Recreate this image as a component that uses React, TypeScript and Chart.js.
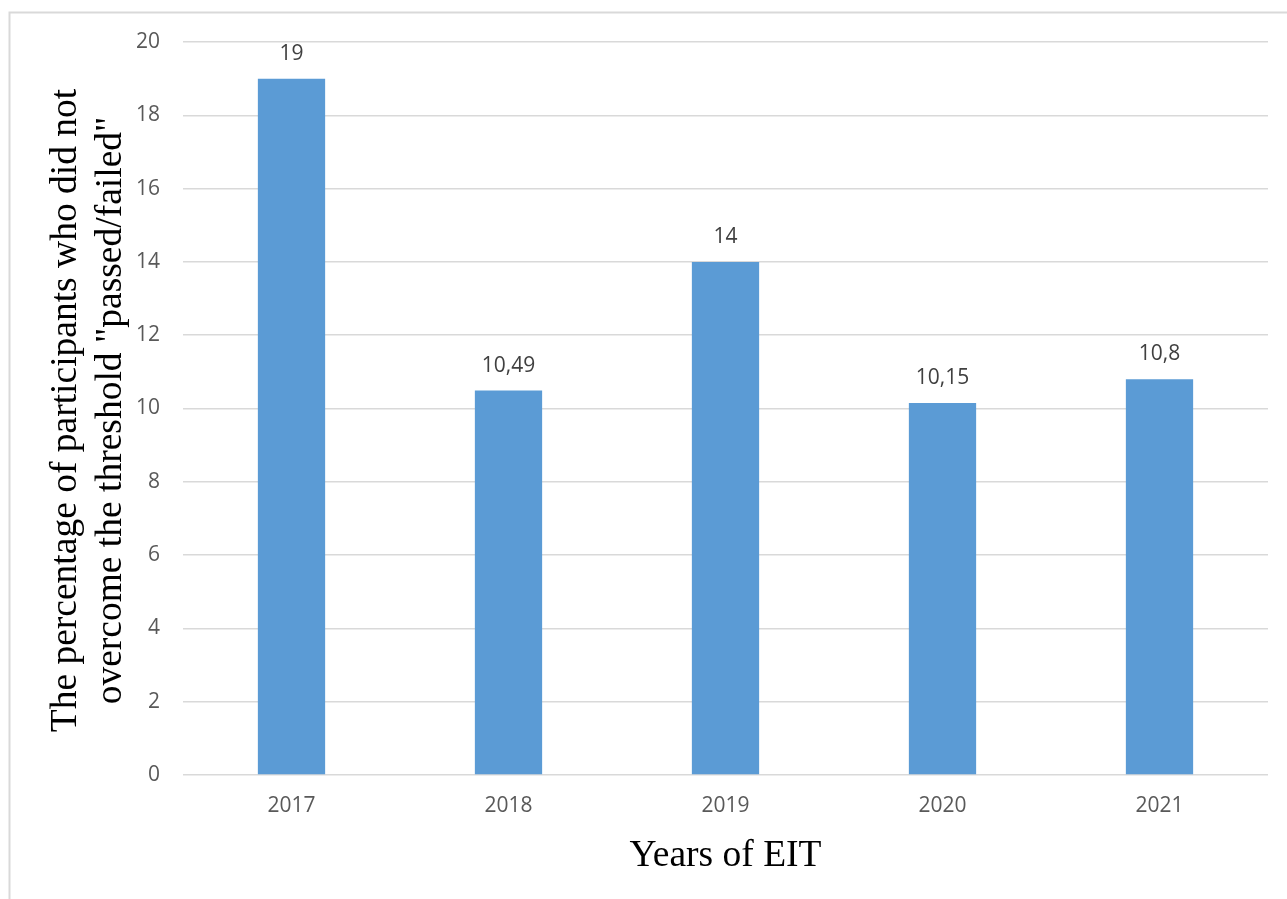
import React, { useEffect, useRef } from "react";
import { Chart, registerables } from "chart.js";

Chart.register(...registerables);

const years: string[] = ["2017", "2018", "2019", "2020", "2021"];
const failedPercent: number[] = [19, 10.49, 14, 10.15, 10.8];
const valueLabels: string[] = ["19", "10,49", "14", "10,15", "10,8"];
const yTitleLines: string[] = [
  "The percentage of participants who did not",
  'overcome the threshold "passed/failed"',
];
const xTitle = "Years of EIT";

const W = 1287;
const H = 899;

const overlayPlugin = {
  id: "overlay",
  beforeDraw(chart: any) {
    const ctx = chart.ctx;
    ctx.save();
    ctx.fillStyle = "#ffffff";
    ctx.fillRect(0, 0, W, H);
    ctx.strokeStyle = "#d9d9d9";
    ctx.lineWidth = 2;
    ctx.beginPath();
    ctx.moveTo(9.5, H + 5);
    ctx.lineTo(9.5, 12.5);
    ctx.lineTo(W + 5, 12.5);
    ctx.stroke();
    ctx.restore();
  },
  afterDraw(chart: any) {
    const ctx = chart.ctx;
    const area = chart.chartArea;
    ctx.save();
    // data labels
    const meta = chart.getDatasetMeta(0);
    ctx.font = '21px "Open Sans"';
    ctx.fillStyle = "#404040";
    ctx.textAlign = "center";
    ctx.textBaseline = "alphabetic";
    meta.data.forEach((bar: any, i: number) => {
      ctx.fillText(valueLabels[i], bar.x, bar.y - 19);
    });
    // axis titles
    ctx.fillStyle = "#000000";
    ctx.font = '37.5px "Liberation Serif"';
    ctx.textAlign = "center";
    ctx.fillText(xTitle, (area.left + area.right) / 2, 866);
    const cy = (area.top + area.bottom) / 2 + 2;
    const baselines = [76, 121];
    yTitleLines.forEach((line, i) => {
      ctx.save();
      ctx.translate(baselines[i], cy);
      ctx.rotate(-Math.PI / 2);
      ctx.fillText(line, 0, 0);
      ctx.restore();
    });
    ctx.restore();
  },
};

export default function App() {
  const ref = useRef<HTMLCanvasElement | null>(null);
  useEffect(() => {
    if (!ref.current) return;
    const chart = new Chart(ref.current, {
      type: "bar",
      data: {
        labels: years,
        datasets: [
          {
            data: failedPercent,
            backgroundColor: "#5B9BD5",
            borderWidth: 0,
            barPercentage: 0.31,
            categoryPercentage: 1,
          },
        ],
      },
      options: {
        animation: false,
        responsive: false,
        devicePixelRatio: 1,
        layout: { padding: { top: 42, right: 19, bottom: 0, left: 0 } },
        plugins: {
          legend: { display: false },
          tooltip: { enabled: false },
          title: { display: false },
        },
        scales: {
          x: {
            grid: { display: false, drawTicks: false },
            border: { display: false },
            ticks: {
              color: "#595959",
              font: { family: "Open Sans", size: 21 },
              padding: 18,
            },
            afterFit(scale: any) {
              scale.height = 124;
            },
          },
          y: {
            min: 0,
            max: 20,
            grid: { color: "#d9d9d9", lineWidth: 1.5, drawTicks: false },
            border: { display: false },
            ticks: {
              stepSize: 2,
              color: "#595959",
              font: { family: "Open Sans", size: 21 },
              padding: 23,
            },
            afterFit(scale: any) {
              scale.width = 183;
            },
          },
        },
      },
      plugins: [overlayPlugin],
    });
    return () => chart.destroy();
  }, []);
  return (
    <div style={{ position: "absolute", left: 0, top: 0, width: W, height: H }}>
      <canvas ref={ref} width={W} height={H} style={{ display: "block" }} />
    </div>
  );
}
